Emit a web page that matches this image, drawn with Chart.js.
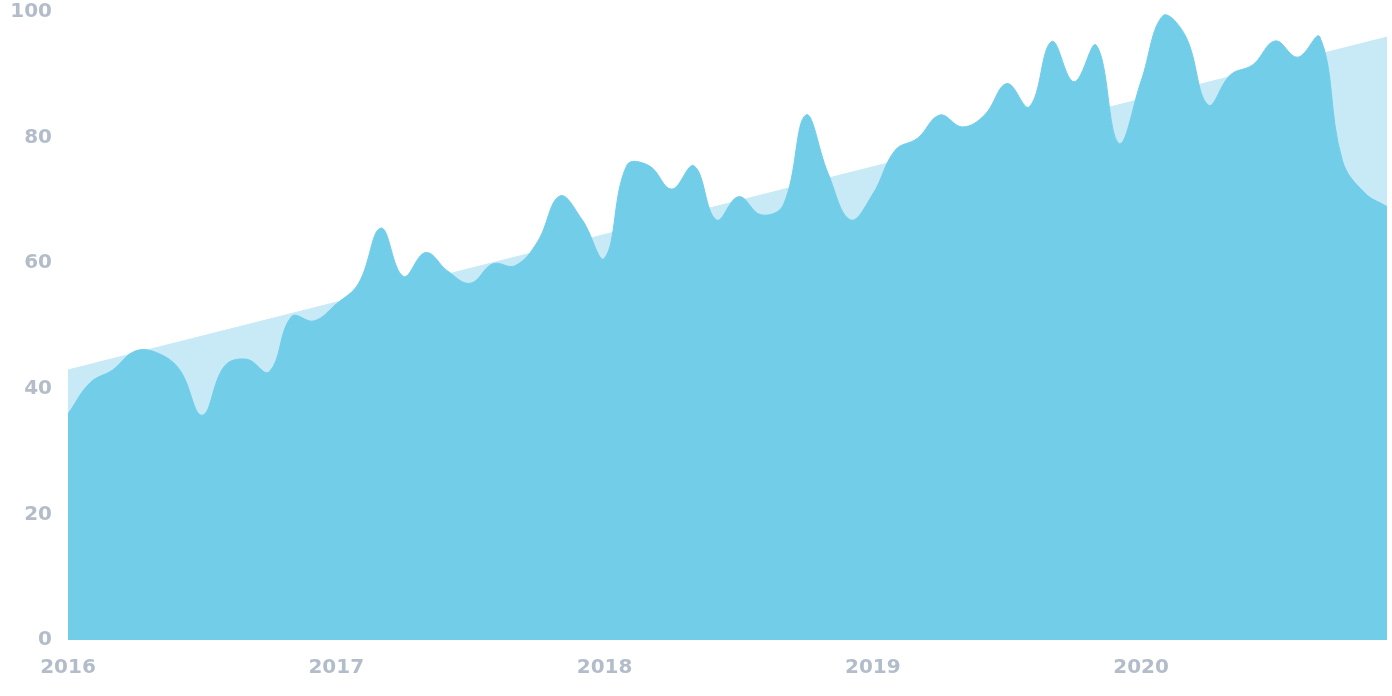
<!DOCTYPE html>
<html>
<head>
<meta charset="utf-8">
<script src="https://cdn.jsdelivr.net/npm/chart.js@4"></script>
<style>
  html, body { margin: 0; padding: 0; background: #fff; }
  #wrap { width: 1392px; height: 696px; }
</style>
</head>
<body>
<div id="wrap"><canvas id="area"></canvas></div>
<script>
    const years = ['2016', '2017', '2018', '2019', '2020'];
    const monthLabels = [];
    years.forEach(y => {
        for (let m = 1; m <= 12; m++) monthLabels.push(y + '-' + String(m).padStart(2, '0'));
    });

    const monthlyValues = [
        36, 41, 43, 46, 45.7, 43, 35.8, 43.6, 44.7, 42.7, 51.5, 50.8,
        53.5, 56.8, 65.6, 57.9, 61.7, 58.7, 56.8, 59.9, 59.6, 63.4, 70.7, 66.9,
        60.8, 75.6, 75.5, 71.8, 75.5, 66.9, 70.6, 67.7, 69.3, 83.6, 74.3, 66.9,
        71, 78, 79.9, 83.6, 81.7, 83.6, 88.6, 84.9, 95.3, 88.9, 94.7, 79.1,
        89, 99.5, 96.1, 85.2, 90, 91.6, 95.4, 92.8, 96, 76.4, 71.2, 69
    ];

    const trendStart = 43;
    const trendEnd = 96;

    const yTicks = [0, 20, 40, 60, 80, 100];
    const labelColor = '#b3bdca';

    const ctx = document.getElementById('area').getContext('2d');
    const chart = new Chart(ctx, {
        type: 'line',
        data: {
            labels: monthLabels,
            datasets: [{
                label: 'Monthly',
                data: monthlyValues,
                order: 0,
                fill: 'origin',
                backgroundColor: '#72cde9',
                borderColor: '#72cde9',
                borderWidth: 1,
                pointRadius: 0,
                tension: 0.4
            }, {
                label: 'Trend',
                data: [
                    { x: monthLabels[0], y: trendStart },
                    { x: monthLabels[monthLabels.length - 1], y: trendEnd }
                ],
                order: 1,
                fill: 'origin',
                backgroundColor: '#c7eaf6',
                borderColor: '#c7eaf6',
                borderWidth: 1,
                pointRadius: 0,
                tension: 0
            }]
        },
        options: {
            responsive: true,
            maintainAspectRatio: false,
            animation: false,
            layout: { padding: { top: 12, right: 5, left: 0, bottom: 0 } },
            plugins: {
                legend: { display: false },
                tooltip: { enabled: false }
            },
            scales: {
                x: {
                    grid: { display: false, drawTicks: false },
                    border: { display: false },
                    afterFit: scale => { scale.height = 56; },
                    ticks: {
                        autoSkip: false,
                        maxRotation: 0,
                        padding: 16,
                        color: labelColor,
                        font: { family: 'DejaVu Sans', weight: 'bold', size: 20 },
                        callback: function (val, idx) {
                            const lbl = monthLabels[idx];
                            return lbl.endsWith('-01') ? lbl.slice(0, 4) : null;
                        }
                    }
                },
                y: {
                    min: 0,
                    max: 100,
                    grid: { display: false, drawTicks: false },
                    border: { display: false },
                    afterFit: scale => {
                        scale.width = 68;
                        scale.paddingTop = 0;
                        scale.paddingBottom = 0;
                    },
                    afterBuildTicks: scale => { scale.ticks = yTicks.map(v => ({ value: v })); },
                    ticks: {
                        padding: 16,
                        color: labelColor,
                        font: { family: 'DejaVu Sans', weight: 'bold', size: 20 }
                    }
                }
            }
        }
    });
</script>
</body>
</html>
